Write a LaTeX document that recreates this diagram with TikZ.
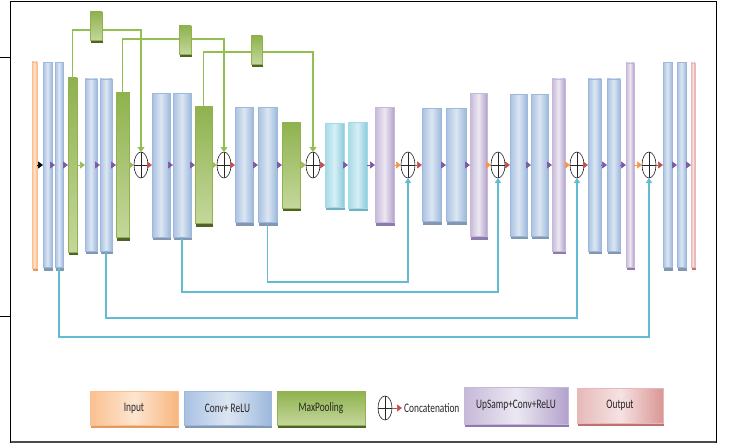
\documentclass[tikz,border=0pt]{standalone}
\usepackage{fontspec}
\newfontfamily\legendfont[FakeStretch=0.72]{Carlito}
\usepackage{tikz}
\usetikzlibrary{positioning}
\usetikzlibrary{shapes.geometric}
\usetikzlibrary{arrows.meta}
\usetikzlibrary{shadows}

\definecolor{convL}{HTML}{A8C1E2}
\definecolor{convM}{HTML}{DCE6F2}
\definecolor{convR}{HTML}{9DB9DD}
\definecolor{convB}{HTML}{9DB8DA}
\definecolor{convS}{HTML}{8497B0}
\definecolor{poolT}{HTML}{8FB24E}
\definecolor{poolB}{HTML}{C4D79B}
\definecolor{poolS}{HTML}{4F6228}
\definecolor{inL}{HTML}{FAC090}
\definecolor{inM}{HTML}{FDE5D0}
\definecolor{inR}{HTML}{F8B57E}
\definecolor{inS}{HTML}{E29A5E}
\definecolor{cyL}{HTML}{A6D9E6}
\definecolor{cyM}{HTML}{D6EFF5}
\definecolor{cyR}{HTML}{8CCBDC}
\definecolor{cyS}{HTML}{6FB0C2}
\definecolor{upL}{HTML}{C5B8D8}
\definecolor{upM}{HTML}{ECE8F2}
\definecolor{upR}{HTML}{B3A2CC}
\definecolor{upS}{HTML}{8E7AAE}
\definecolor{outL}{HTML}{E6B9B8}
\definecolor{outM}{HTML}{F6E2E2}
\definecolor{outR}{HTML}{D99694}
\definecolor{outS}{HTML}{C07070}
\definecolor{arrPur}{HTML}{7E57A5}
\definecolor{arrGreen}{HTML}{9BBB59}
\definecolor{arrRed}{HTML}{C0504D}
\definecolor{arrOrange}{HTML}{F79646}
\definecolor{skipCol}{HTML}{62BBD0}
\definecolor{poolLine}{HTML}{92C050}

\begin{document}
\begin{tikzpicture}[x=1pt, y=-1pt,
                blocknode/.style={rectangle, inner sep=0pt, outer sep=0pt, line width=0.4pt},
                blocksize/.style 2 args={minimum width=#1, minimum height=#2},
                convnode/.style={blocknode, draw=convB, left color=convL, right color=convR, middle color=convM,
                    drop shadow={shadow xshift=1pt, shadow yshift=-3pt, fill=convS, opacity=1}},
                poolnode/.style={blocknode, draw=poolT, top color=poolT, bottom color=poolB,
                    drop shadow={shadow xshift=1pt, shadow yshift=-3pt, fill=poolS, opacity=1}},
                inputnode/.style={blocknode, draw=inL, left color=inL, right color=inR, middle color=inM,
                    drop shadow={shadow xshift=1pt, shadow yshift=-3pt, fill=inS, opacity=1}},
                bottlenode/.style={blocknode, draw=cyL, left color=cyL, right color=cyR, middle color=cyM,
                    drop shadow={shadow xshift=1pt, shadow yshift=-3pt, fill=cyS, opacity=1}},
                upnode/.style={blocknode, draw=upL, left color=upL, right color=upR, middle color=upM,
                    drop shadow={shadow xshift=1pt, shadow yshift=-3pt, fill=upS, opacity=1}},
                outnode/.style={blocknode, draw=outL, left color=outL, right color=outR, middle color=outM,
                    drop shadow={shadow xshift=1pt, shadow yshift=-3pt, fill=outS, opacity=1}},
                concatnode/.style={ellipse, draw=black!85, line width=0.6pt, fill=white, inner sep=0pt, outer sep=0pt,
                    minimum width=14pt, minimum height=26pt,
                    path picture={\draw[line width=0.6pt] (path picture bounding box.north) -- (path picture bounding box.south)
                        (path picture bounding box.west) -- (path picture bounding box.east);}},
                legendtext/.style={font=\legendfont\fontsize{13}{15}\selectfont, text=black!85},
                tip/.style={-{Triangle[length=5pt,width=7pt]}, line width=0.6pt},
                blackarrow/.style={tip, black},
                purparrow/.style={tip, arrPur},
                greenarrow/.style={tip, arrGreen},
                redarrow/.style={tip, arrRed},
                orangearrow/.style={tip, arrOrange},
                skipline/.style={-{Triangle[length=5pt,width=6pt]}, skipCol, line width=1.2pt},
                poolskip/.style={-{Triangle[length=5pt,width=7pt]}, poolLine, line width=1.5pt},
            ]
            \useasboundingbox (0,0) rectangle (731,444);
            % Frame
            \draw[line width=1pt] (10.5,1.5) rectangle (716,442);
            \draw[line width=1.6pt, black!70] (10.5,442) -- (716,442);
            \draw[line width=0.8pt] (0,57) -- (10.5,57);
            \draw[line width=0.8pt] (0,316) -- (10.5,316);

            % Nodes
            \node[inputnode, blocksize={5pt}{206pt}]     (in)      at (34.5,165)         {};
            \node[convnode, blocksize={9pt}{205pt}]      (c1a)     [right=6pt of in]     {};
            \node[convnode, blocksize={8pt}{205pt}]      (c1b)     [right=3pt of c1a]    {};
            \node[poolnode, blocksize={9pt}{174pt}]      (p1)      [right=5pt of c1b]    {};
            \node[convnode, blocksize={12pt}{172pt}]     (c2a)     [right=8pt of p1]     {};
            \node[convnode, blocksize={12pt}{172pt}]     (c2b)     [right=3pt of c2a]    {};
            \node[poolnode, blocksize={13pt}{145pt}]     (p2)      [right=4pt of c2b]    {};
            \node[concatnode]                            (x1)      [right=5pt of p2]     {};
            \node[convnode, blocksize={18pt}{144pt}]     (c3a)     [right=4pt of x1]     {};
            \node[convnode, blocksize={18pt}{144pt}]     (c3b)     [right=3pt of c3a]    {};
            \node[poolnode, blocksize={17pt}{117pt}]     (p3)      [right=4pt of c3b]    {};
            \node[concatnode]                            (x2)      [right=5pt of p3]     {};
            \node[convnode, blocksize={18pt}{115pt}]     (c4a)     [right=4pt of x2]     {};
            \node[convnode, blocksize={19pt}{115pt}]     (c4b)     [right=5pt of c4a]    {};
            \node[poolnode, blocksize={18pt}{86pt}]      (p4)      [right=5pt of c4b]    {};
            \node[concatnode]                            (x3)      [right=6pt of p4]     {};
            \node[bottlenode, blocksize={19pt}{84pt}]    (b1)      [right=5pt of x3]     {};
            \node[bottlenode, blocksize={19pt}{86pt}]    (b2)      [right=4pt of b1]     {};
            \node[upnode, blocksize={19pt}{115pt}]       (u1)      [right=8pt of b2]     {};
            \node[concatnode]                            (x4)      [right=7pt of u1]     {};
            \node[convnode, blocksize={19pt}{113pt}]     (c5a)     [right=7pt of x4]     {};
            \node[convnode, blocksize={20pt}{113pt}]     (c5b)     [right=5pt of c5a]    {};
            \node[upnode, blocksize={17pt}{143pt}]       (u2)      [right=4pt of c5b]    {};
            \node[concatnode]                            (x5)      [right=4pt of u2]     {};
            \node[convnode, blocksize={17pt}{142pt}]     (c6a)     [right=5pt of x5]     {};
            \node[convnode, blocksize={17pt}{142pt}]     (c6b)     [right=4pt of c6a]    {};
            \node[upnode, blocksize={13pt}{172pt}]       (u3)      [right=4pt of c6b]    {};
            \node[concatnode]                            (x6)      [right=5pt of u3]     {};
            \node[convnode, blocksize={13pt}{172pt}]     (c7a)     [right=4pt of x6]     {};
            \node[convnode, blocksize={13pt}{172pt}]     (c7b)     [right=6pt of c7a]    {};
            \node[upnode, blocksize={8pt}{204pt}]        (u4)      [right=6pt of c7b]    {};
            \node[concatnode]                            (x7)      [right=8pt of u4]     {};
            \node[convnode, blocksize={9pt}{205pt}]      (c8a)     [right=7pt of x7]     {};
            \node[convnode, blocksize={9pt}{205pt}]      (c8b)     [right=5pt of c8a]    {};
            \node[outnode, blocksize={4pt}{204pt}]       (out)     [right=5pt of c8b]    {};

            %Lines
            \draw[blackarrow] (in.east) -- (c1a.west);
            \draw[purparrow] (c1a.east) -- (c1b.west);
            \draw[purparrow] (c1b.east) -- (p1.west);
            \draw[greenarrow] (p1.east) -- (c2a.west);
            \draw[purparrow] (c2a.east) -- (c2b.west);
            \draw[purparrow] (c2b.east) -- (p2.west);
            \draw[greenarrow] (p2.east) -- (x1.west);
            \draw[redarrow] (x1.east) -- (c3a.west);
            \draw[purparrow] (c3a.east) -- (c3b.west);
            \draw[purparrow] (c3b.east) -- (p3.west);
            \draw[greenarrow] (p3.east) -- (x2.west);
            \draw[redarrow] (x2.east) -- (c4a.west);
            \draw[purparrow] (c4a.east) -- (c4b.west);
            \draw[purparrow] (c4b.east) -- (p4.west);
            \draw[greenarrow] (p4.east) -- (x3.west);
            \draw[redarrow] (x3.east) -- (b1.west);
            \draw[purparrow] (b1.east) -- (b2.west);
            \draw[purparrow] (b2.east) -- (u1.west);
            \draw[orangearrow] (u1.east) -- (x4.west);
            \draw[redarrow] (x4.east) -- (c5a.west);
            \draw[purparrow] (c5a.east) -- (c5b.west);
            \draw[purparrow] (c5b.east) -- (u2.west);
            \draw[orangearrow] (u2.east) -- (x5.west);
            \draw[redarrow] (x5.east) -- (c6a.west);
            \draw[purparrow] (c6a.east) -- (c6b.west);
            \draw[purparrow] (c6b.east) -- (u3.west);
            \draw[orangearrow] (u3.east) -- (x6.west);
            \draw[redarrow] (x6.east) -- (c7a.west);
            \draw[purparrow] (c7a.east) -- (c7b.west);
            \draw[purparrow] (c7b.east) -- (u4.west);
            \draw[orangearrow] (u4.east) -- (x7.west);
            \draw[redarrow] (x7.east) -- (c8a.west);
            \draw[purparrow] (c8a.east) -- (c8b.west);
            \draw[purparrow] (c8b.east) -- (out.west);

            % skip connections
            \draw[poolskip] (p1.north) -- (p1.north |- 0,30) -| (x1.north);
            \draw[poolskip] (p2.north) -- (p2.north |- 0,39) -| (x2.north);
            \draw[poolskip] (p3.north) -- (p3.north |- 0,52) -| (x3.north);

            \draw[skipline] (c4b.south) -- (c4b.south |- 0,282) -| (x4.south);
            \draw[skipline] (c3b.south) -- (c3b.south |- 0,292) -| (x5.south);
            \draw[skipline] (c2b.south) -- (c2b.south |- 0,318) -| (x6.south);
            \draw[skipline] (c1b.south) -- (c1b.south |- 0,337) -| (x7.south);

            % pooling markers
            \node[poolnode, blocksize={12pt}{28pt}]      (g1)      at (96,26)            {};
            \node[poolnode, blocksize={12pt}{28pt}]      (g2)      at (185,40)           {};
            \node[poolnode, blocksize={11pt}{28pt}]      (g3)      at (256.5,50)         {};

            % Legend
            \node[inputnode, legendtext, blocksize={88pt}{34pt}]   (l_in)      at (134,408)              {Input};
            \node[convnode, legendtext, blocksize={87pt}{34pt}]    (l_conv)    [right=6pt of l_in]       {Conv+ ReLU};
            \node[poolnode, legendtext, blocksize={88pt}{34pt}]    (l_pool)    [right=6pt of l_conv]     {MaxPooling};
            \node[concatnode, minimum height=24pt]                 (l_cat)     at (385,408)              {};
            \node[legendtext, inner sep=1pt]                       (l_cattext) [right=11pt of l_cat]     {Concatenation};
            \node[upnode, legendtext, blocksize={104pt}{37pt}]     (l_up)      at (516,405.5)            {UpSamp+Conv+ReLU};
            \node[outnode, legendtext, blocksize={86pt}{35pt}]     (l_out)     [right=9pt of l_up]       {Output};

            \draw[redarrow] (l_cat.east) -- ++(10pt,0);
        \end{tikzpicture}
\end{document}
